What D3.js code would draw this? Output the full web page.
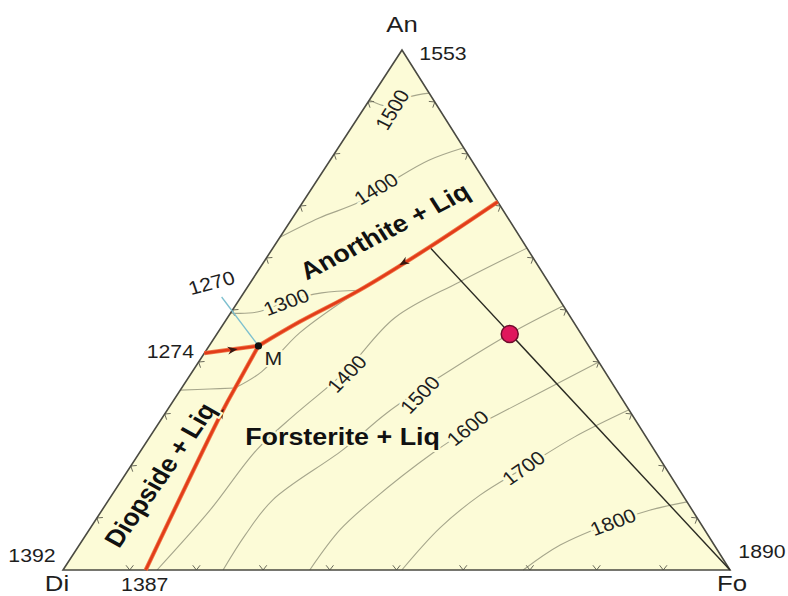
<!DOCTYPE html>
<html><head><meta charset="utf-8">
<script src="https://cdn.jsdelivr.net/npm/d3@7"></script>
<style>html,body{margin:0;padding:0;background:#fff;}svg{display:block;}</style>
</head><body>
<svg id="chart" width="788" height="596"></svg>
<script>
// ---------- DATA (compositions as [An %, Fo %]; Di = 100 - An - Fo) ----------
const vertexNames = ["An", "Di", "Fo"];
const vertexTemps = ["1553", "1392", "1890"];
const vertexComps = [[100, 0], [0, 0], [0, 100]];
const eutecticDiFo = [0, 12.4];
const eutecticDiFoTemp = "1387";
const tickPercents = [10, 20, 30, 40, 50, 60, 70, 80, 90];

const cotecticDiFo = [[0, 12.4], [30.4, 8.4], [36.5, 7.9], [43.1, 7.4]];
const cotecticAnFo = [[43.1, 7.4], [47.7, 11.2], [53.8, 17.1], [62.1, 23.4], [70.8, 29.2]];
const binaryAnDi = [[41.7, 0], [43.1, 7.4]];
const line1270 = [[52.5, -2.9], [43.1, 7.4]];
const pathToFo = [[62.1, 23.4], [0, 100]];
const bulkComposition = [45.4, 43.9];
const eutecticM = [43.1, 7.4];

const arrowAt = [[30.0, 8.4], [42.3, 3.8], [59.2, 21.1]];
const arrowToward = [[36.5, 7.9], [43.1, 7.4], [53.8, 17.1]];

const isothermTemps = [1500, 1400, 1300, 1300, 1300, 1400, 1500, 1600, 1700, 1800];
const isothermComps = [
  [[90.4, 0], [89.2, 3.5], [91.0, 5.7], [91.7, 8.3]],
  [[64.0, 0], [67.7, 4.0], [70.8, 8.5], [75.0, 11.5], [78.8, 14.8], [81.2, 18.8]],
  [[49.4, 0], [49.6, 3.9], [51.9, 7.6], [53.3, 11.7], [53.8, 17.1]],
  [[34.6, 0], [34.8, 4.3], [35.0, 8.0]],
  [[35.0, 8.0], [38.1, 10.4], [45.6, 12.3], [53.8, 17.1]],
  [[0, 14.1], [11.5, 16.2], [23.1, 17.3], [30.2, 19.7], [38.1, 22.9], [48.5, 25.1], [55.4, 31.3], [61.9, 38.1]],
  [[0, 24.0], [6.7, 23.9], [13.5, 24.6], [23.1, 30.2], [30.2, 33.2], [37.1, 37.6], [45.4, 43.9], [50.8, 49.2]],
  [[0, 37.0], [7.7, 37.6], [13.5, 39.6], [22.5, 44.0], [26.9, 47.0], [29.8, 49.9], [40.0, 60.0]],
  [[0, 50.8], [8.1, 52.4], [14.4, 55.2], [19.6, 59.1], [25.6, 63.7], [30.8, 69.2]],
  [[0, 69.0], [4.8, 72.1], [9.2, 77.8], [11.5, 82.1], [13.1, 86.9]]
];

const isoLabelTexts = ["1500", "1400", "1300", "1400", "1500", "1600", "1700", "1800"];
const isoLabelComps = [[88.5, 4.4], [73.3, 9.7], [51.5, 7.3], [37.7, 23.4], [33.7, 36.4], [27.3, 46.8], [19.6, 59.1], [9.2, 77.8]];

const pointLabelTexts = ["1270", "1274", "M"];
const pointLabelComps = [[55.2, -5.8], [42.1, -5.3], [40.6, 10.9]];

const fieldLabelTexts = ["Anorthite + Liq", "Forsterite + Liq", "Diopside + Liq"];
const fieldLabelComps = [[65.2, 15.1], [25.6, 28.9], [18.3, 5.2]];

// ---------- LAYOUT / STYLE ----------
const L = 63, R = 730, T = 50, B = 570, APEX_X = 402;
const k = (APEX_X - L) / (R - L);
const xScale = d3.scaleLinear().domain([0, 100]).range([L, R]);
const yScale = d3.scaleLinear().domain([0, 100]).range([B, T]);
const P = c => [xScale(c[1] + c[0] * k), yScale(c[0])];

const SX = 1.12;
function tf(x, y, a) {
  const th = Math.atan(SX * Math.tan(a * Math.PI / 180)) * 180 / Math.PI;
  return `translate(${x},${y}) scale(${SX},1) rotate(${th})`;
}
const FONT = "'Liberation Sans', Arial, Helvetica, sans-serif";
const CREAM = "#fcfbd7";

const svg = d3.select("#chart");

// triangle fill
const tri = vertexComps.map(P);
svg.append("path").attr("d", "M" + tri.map(p => p.join(",")).join("L") + "Z")
  .attr("fill", CREAM).attr("stroke", "none");

const smooth = d3.line().x(d => P(d)[0]).y(d => P(d)[1]).curve(d3.curveCatmullRom.alpha(0.5));
const straight = d3.line().x(d => P(d)[0]).y(d => P(d)[1]);

// isotherms
svg.append("g").selectAll("path").data(isothermComps).join("path")
  .attr("d", d => smooth(d)).attr("fill", "none")
  .attr("stroke", "#a6a68c").attr("stroke-width", 1.1);

// ticks (chevrons opening inward)
const centroid = [(tri[0][0] + tri[1][0] + tri[2][0]) / 3, (tri[0][1] + tri[1][1] + tri[2][1]) / 3];
const edges = [
  t => [0, t],          // Di-Fo
  t => [t, 100 - t],    // Fo-An
  t => [t, 0]           // Di-An
];
const tickG = svg.append("g");
edges.forEach(fn => {
  tickPercents.forEach(t => {
    const p = P(fn(t));
    const dx = centroid[0] - p[0], dy = centroid[1] - p[1];
    const e0 = P(fn(0)), e1 = P(fn(100));
    let ex = e1[0] - e0[0], ey = e1[1] - e0[1];
    const el = Math.hypot(ex, ey); ex /= el; ey /= el;
    let nx = -ey, ny = ex;
    if (nx * dx + ny * dy < 0) { nx = -nx; ny = -ny; }
    const a = 38 * Math.PI / 180, len = 6;
    const r1 = [nx * Math.cos(a) - ny * Math.sin(a), nx * Math.sin(a) + ny * Math.cos(a)];
    const r2 = [nx * Math.cos(-a) - ny * Math.sin(-a), nx * Math.sin(-a) + ny * Math.cos(-a)];
    tickG.append("path")
      .attr("d", `M${p[0] + r1[0] * len},${p[1] + r1[1] * len}L${p[0]},${p[1]}L${p[0] + r2[0] * len},${p[1] + r2[1] * len}`)
      .attr("fill", "none").attr("stroke", "#6a6a5a").attr("stroke-width", 1);
  });
});

// triangle outline
svg.append("path").attr("d", "M" + tri.map(p => p.join(",")).join("L") + "Z")
  .attr("fill", "none").attr("stroke", "#4a4a42").attr("stroke-width", 1.6).attr("stroke-linejoin", "miter");

// 1270 thermal line (blue)
svg.append("path").attr("d", straight(line1270)).attr("fill", "none")
  .attr("stroke", "#7dc0cf").attr("stroke-width", 1.3);

// path to Fo (black)
svg.append("path").attr("d", straight(pathToFo)).attr("fill", "none")
  .attr("stroke", "#2a2a22").attr("stroke-width", 1.4);

// red cotectic lines
[cotecticDiFo, cotecticAnFo, binaryAnDi].forEach(c => {
  svg.append("path").attr("d", smooth(c)).attr("fill", "none")
    .attr("stroke", "#f07a4a").attr("stroke-width", 4.2).attr("stroke-linecap", "butt").attr("stroke-linejoin", "round");
  svg.append("path").attr("d", smooth(c)).attr("fill", "none")
    .attr("stroke", "#e23c1a").attr("stroke-width", 2.6).attr("stroke-linecap", "butt").attr("stroke-linejoin", "round");
});

// arrowheads
arrowAt.forEach((c, i) => {
  const p = P(c), q = P(arrowToward[i]);
  let ux = q[0] - p[0], uy = q[1] - p[1];
  const ul = Math.hypot(ux, uy); ux /= ul; uy /= ul;
  const vx = -uy, vy = ux;
  const tip = [p[0] + ux * 6, p[1] + uy * 6];
  const b1 = [p[0] - ux * 4 + vx * 4, p[1] - uy * 4 + vy * 4];
  const b2 = [p[0] - ux * 4 - vx * 4, p[1] - uy * 4 - vy * 4];
  const m = [p[0] - ux * 1, p[1] - uy * 1];
  svg.append("path").attr("d", `M${tip}L${b1}L${m}L${b2}Z`).attr("fill", "#3a1810");
});

// M point
svg.append("circle").attr("cx", P(eutecticM)[0]).attr("cy", P(eutecticM)[1]).attr("r", 3.6).attr("fill", "#111");

// bulk composition dot
svg.append("circle").attr("cx", P(bulkComposition)[0]).attr("cy", P(bulkComposition)[1]).attr("r", 8.5)
  .attr("fill", "#e0175c").attr("stroke", "#6e0c2c").attr("stroke-width", 1.5);

// isotherm labels
const isoAngles = [-58, -30, -20, -45, -45, -38, -35, -20];
svg.append("g").selectAll("text").data(isoLabelTexts).join("text")
  .attr("transform", (d, i) => { const p = P(isoLabelComps[i]); return tf(p[0], p[1], isoAngles[i]); })
  .attr("text-anchor", "middle").attr("dominant-baseline", "central")
  .attr("font-family", FONT).attr("font-size", 19).attr("fill", "#1e1e1e")
  .attr("stroke", CREAM).attr("stroke-width", 5).attr("paint-order", "stroke")
  .text(d => d);

// point labels
const ptAngles = [-15, 0, 0];
svg.append("g").selectAll("text").data(pointLabelTexts).join("text")
  .attr("transform", (d, i) => { const p = P(pointLabelComps[i]); return tf(p[0], p[1], ptAngles[i]); })
  .attr("text-anchor", "middle").attr("dominant-baseline", "central")
  .attr("font-family", FONT).attr("font-size", 19).attr("fill", "#1e1e1e")
  .attr("stroke", (d, i) => i === 2 ? CREAM : "none").attr("stroke-width", 4).attr("paint-order", "stroke")
  .text(d => d);

// field labels
const fieldAngles = [-27, 0, -55];
svg.append("g").selectAll("text").data(fieldLabelTexts).join("text")
  .attr("transform", (d, i) => { const p = P(fieldLabelComps[i]); return tf(p[0], p[1], fieldAngles[i]); })
  .attr("text-anchor", "middle").attr("dominant-baseline", "central")
  .attr("font-family", FONT).attr("font-size", 24).attr("font-weight", "bold").attr("fill", "#111")
  .attr("stroke", CREAM).attr("stroke-width", 4).attr("paint-order", "stroke")
  .text(d => d);

// vertex labels
const nameOffsets = [[0, -26], [-6, 13], [2, 13]];
const tempOffsets = [[41, 3], [-31, -15], [32, -19]];
vertexNames.forEach((n, i) => {
  const p = P(vertexComps[i]);
  svg.append("text").attr("transform", tf(p[0] + nameOffsets[i][0], p[1] + nameOffsets[i][1], 0))
    .attr("text-anchor", "middle").attr("dominant-baseline", "central")
    .attr("font-family", FONT).attr("font-size", 23).attr("fill", "#1e1e1e").text(n);
  svg.append("text").attr("transform", tf(p[0] + tempOffsets[i][0], p[1] + tempOffsets[i][1], 0))
    .attr("text-anchor", "middle").attr("dominant-baseline", "central")
    .attr("font-family", FONT).attr("font-size", 19).attr("fill", "#1e1e1e").text(vertexTemps[i]);
});
const pe = P(eutecticDiFo);
svg.append("text").attr("transform", tf(pe[0] - 1, pe[1] + 14, 0))
  .attr("text-anchor", "middle").attr("dominant-baseline", "central")
  .attr("font-family", FONT).attr("font-size", 19).attr("fill", "#1e1e1e").text(eutecticDiFoTemp);
</script>
</body></html>
